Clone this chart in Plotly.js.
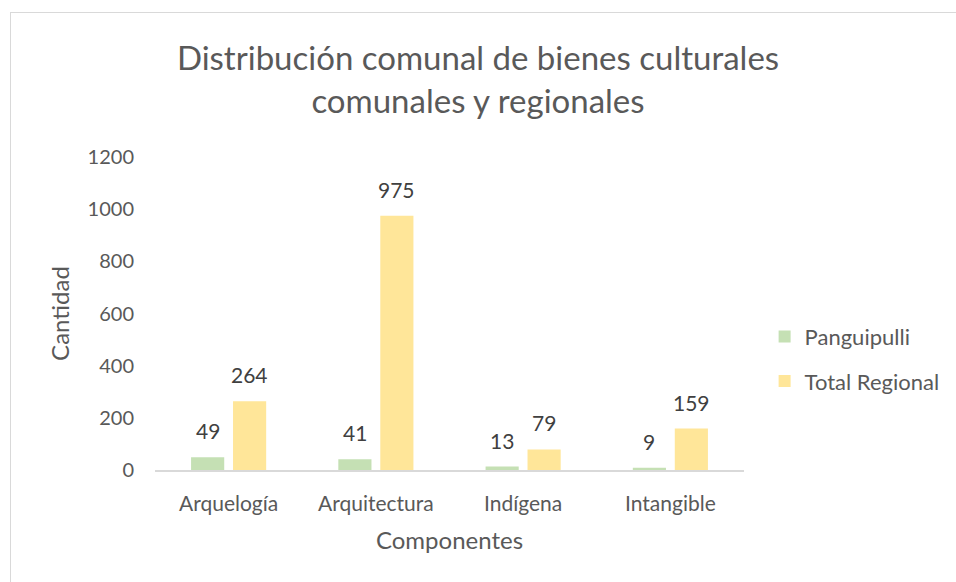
<!DOCTYPE html>
<html><head><meta charset="utf-8">
<script src="https://cdn.plot.ly/plotly-3.0.1.min.js"></script>
<style>
html,body{margin:0;padding:0;background:#fff;overflow:hidden;}
#frame{position:absolute;left:10px;top:12px;width:1200px;height:1000px;border:1.5px solid #d9d9d9;box-sizing:border-box;}
#chart{position:absolute;left:0;top:0;width:956px;height:582px;}
</style>
</head><body>
<div id="frame"></div>
<div id="chart"></div>
<script>
const categories = ["Arquelogía", "Arquitectura", "Indígena", "Intangible"];
const panguipulli = [49, 41, 13, 9];
const totalRegional = [264, 975, 79, 159];
const seriesNames = ["Panguipulli", "Total Regional"];
const yTicks = [0, 200, 400, 600, 800, 1000, 1200];

const FONT = "Lato, 'Open Sans', sans-serif";
const traces = [
  {type:"bar", name:seriesNames[0], x:categories, y:panguipulli, legendgroup:"a",
   marker:{color:"#C5E0B4"}, hoverinfo:"none"},
  {type:"bar", name:seriesNames[1], x:categories, y:totalRegional, legendgroup:"b",
   marker:{color:"#FFE699"}, hoverinfo:"none"}
];
const annotations = [];
[panguipulli, totalRegional].forEach((vals, s) => {
  vals.forEach((v, i) => {
    annotations.push({x:categories[i], y:v, xref:"x", yref:"y", text:String(v),
      showarrow:false, xanchor:"center", yanchor:"bottom", xshift:(s===0?-21:21), yshift:12,
      font:{size:21,color:"#404040",family:FONT}});
  });
});
const layout = {
  width:956, height:582,
  margin:{l:155, r:212, t:157, b:112, autoexpand:false},
  paper_bgcolor:"rgba(0,0,0,0)", plot_bgcolor:"rgba(0,0,0,0)",
  font:{family:FONT, color:"#595959"},
  title:{text:"Distribución comunal de bienes culturales<br>comunales y regionales",
         font:{size:33,color:"#595959",family:FONT}, x:0.5, xanchor:"center", xref:"container",
         y:0.879, yanchor:"top", yref:"container"},
  barmode:"group", bargap:0.43, bargroupgap:0.21,
  annotations: annotations,
  xaxis:{type:"category", showline:true, linecolor:"#D9D9D9", linewidth:1.5, automargin:false,
         ticks:"", ticklabelstandoff:14, tickfont:{size:21,color:"#595959"}, showgrid:false,
         title:{text:"Componentes", font:{size:24,color:"#595959"}, standoff:18}},
  yaxis:{range:[0,1200], tickvals:yTicks, ticktext:yTicks.map(String), showgrid:false, automargin:false,
         zeroline:false, showline:false, ticks:"", ticklabelstandoff:20, tickfont:{size:20,color:"#595959"},
         title:{text:"Cantidad", font:{size:24,color:"#595959"}, standoff:11}},
  showlegend:true,
  legend:{x:1.035, xanchor:"left", y:0.493, yanchor:"top", traceorder:"grouped",
          tracegroupgap:13, font:{size:22,color:"#595959"}, itemwidth:30}
};
Plotly.newPlot("chart", traces, layout, {displayModeBar:false, staticPlot:true});
</script>
</body></html>
